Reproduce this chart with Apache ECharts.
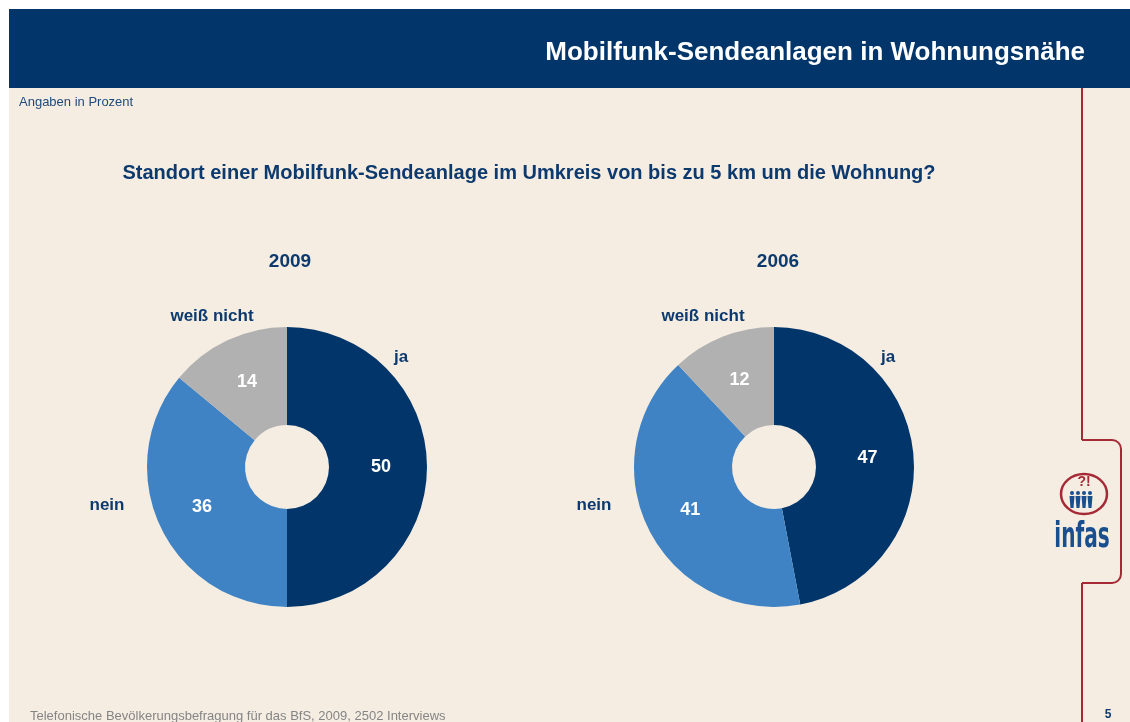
<!DOCTYPE html>
<html>
<head>
<meta charset="utf-8">
<script src="https://cdn.jsdelivr.net/npm/echarts@6/dist/echarts.min.js"></script>
<style>
  html, body { margin: 0; padding: 0; background: #ffffff; }
  #main { width: 1130px; height: 722px; }
</style>
</head>
<body>
<div id="main"></div>
<script>
// Daten
var categories = ['ja', 'nein', 'weiß nicht'];
var years = ['2009', '2006'];
var values2009 = [50, 36, 14];
var values2006 = [47, 41, 12];
var colors = ['#02366a', '#3f83c4', '#b1b1b1'];

var navy = '#0d3a6e';
var red = '#a52a35';
var logoBlue = '#1a4f8f';

function toData(vals) {
    return categories.map(function (c, i) {
        return { name: c, value: vals[i], itemStyle: { color: colors[i] } };
    });
}

function pieSeries(vals, cx) {
    return {
        type: 'pie',
        center: [cx, 467],
        radius: [42, 140],
        startAngle: 90,
        clockwise: true,
        silent: true,
        animation: false,
        label: {
            show: true,
            position: 'inside',
            formatter: '{c}',
            color: '#ffffff',
            fontSize: 18,
            fontWeight: 'bold',
            fontFamily: 'Liberation Sans'
        },
        labelLine: { show: false },
        itemStyle: { borderWidth: 0 },
        emphasis: { disabled: true },
        data: toData(vals)
    };
}

// Kategorie-Beschriftungen außerhalb
function nameLabel(text, x, y) {
    return {
        type: 'text', x: x, y: y,
        style: {
            text: text, fill: navy, font: 'bold 17px "Liberation Sans"',
            textAlign: 'center', textVerticalAlign: 'middle'
        }
    };
}

function redLine(x1, y1, x2, y2) {
    return { type: 'line', z: 5, shape: { x1: x1, y1: y1, x2: x2, y2: y2 }, style: { stroke: red, lineWidth: 2 } };
}

function redArc(cx, cy, a0, a1) {
    return { type: 'arc', z: 5, shape: { cx: cx, cy: cy, r: 9, startAngle: a0, endAngle: a1 }, style: { stroke: red, lineWidth: 2, fill: 'none' } };
}

function figure(x) {
    return [
        { type: 'circle', shape: { cx: x, cy: 493, r: 2 }, style: { fill: logoBlue } },
        { type: 'polygon', shape: { points: [[x - 2.5, 496], [x + 2.5, 496], [x + 1.5, 508], [x - 1.5, 508]] }, style: { fill: logoBlue } }
    ];
}

var logoFigures = [].concat(figure(1072), figure(1078), figure(1084), figure(1090));

var myChart = echarts.init(document.getElementById('main'));
var option = {
    backgroundColor: '#ffffff',
    title: [
        {
            text: 'Mobilfunk-Sendeanlagen in Wohnungsnähe',
            right: 40, top: 35,
            textStyle: { color: '#ffffff', fontSize: 26, fontWeight: 'bold', fontFamily: 'Liberation Sans' }
        },
        {
            text: 'Standort einer Mobilfunk-Sendeanlage im Umkreis von bis zu 5 km um die Wohnung?',
            left: 524, top: 158, textAlign: 'center',
            textStyle: { color: navy, fontSize: 20, fontWeight: 'bold', fontFamily: 'Liberation Sans' }
        },
        {
            text: years[0], left: 285, top: 247, textAlign: 'center',
            textStyle: { color: navy, fontSize: 19, fontWeight: 'bold', fontFamily: 'Liberation Sans' }
        },
        {
            text: years[1], left: 773, top: 247, textAlign: 'center',
            textStyle: { color: navy, fontSize: 19, fontWeight: 'bold', fontFamily: 'Liberation Sans' }
        }
    ],
    graphic: [
        { type: 'rect', z: -10, shape: { x: 9, y: 9, width: 1121, height: 713 }, style: { fill: '#f5ede2' } },
        { type: 'rect', z: -9, shape: { x: 9, y: 9, width: 1121, height: 79 }, style: { fill: '#02366a' } },
        {
            type: 'text', x: 19, y: 102,
            style: { text: 'Angaben in Prozent', fill: '#1f4a7c', font: '13px "Liberation Sans"', textVerticalAlign: 'middle' }
        },
        nameLabel('ja', 401, 357),
        nameLabel('nein', 107, 505),
        nameLabel('weiß nicht', 212, 316),
        nameLabel('ja', 888, 357),
        nameLabel('nein', 594, 505),
        nameLabel('weiß nicht', 703, 316),
        // rote Randlinie mit Ausbuchtung für das Logo
        redLine(1082, 88, 1082, 440),
        redLine(1082, 440, 1112, 440),
        redArc(1112, 449, -Math.PI / 2, 0),
        redLine(1121, 449, 1121, 574),
        redArc(1112, 574, 0, Math.PI / 2),
        redLine(1112, 583, 1082, 583),
        redLine(1082, 583, 1082, 722),
        // infas Logo
        { type: 'ellipse', shape: { cx: 1084, cy: 494, rx: 23, ry: 20 }, style: { fill: 'none', stroke: red, lineWidth: 2.5 } },
        {
            type: 'text', x: 1084, y: 482,
            style: { text: '?!', fill: red, font: 'bold 14px "Liberation Sans"', textAlign: 'center', textVerticalAlign: 'middle' }
        }
    ].concat(logoFigures, [
        {
            type: 'text', x: 1082, y: 538, scaleX: 0.62,
            style: { text: 'infas', fill: logoBlue, font: 'bold 36px "DejaVu Sans Condensed"', textAlign: 'center', textVerticalAlign: 'middle' }
        },
        {
            type: 'text', x: 30, y: 716,
            style: { text: 'Telefonische Bevölkerungsbefragung für das BfS, 2009, 2502 Interviews', fill: '#858585', font: '13px "Liberation Sans"', textVerticalAlign: 'middle' }
        },
        {
            type: 'text', x: 1108, y: 715,
            style: { text: '5', fill: navy, font: 'bold 12px "Liberation Sans"', textAlign: 'center', textVerticalAlign: 'middle' }
        }
    ]),
    series: [
        pieSeries(values2009, 287),
        pieSeries(values2006, 774)
    ]
};
myChart.setOption(option);
</script>
</body>
</html>
